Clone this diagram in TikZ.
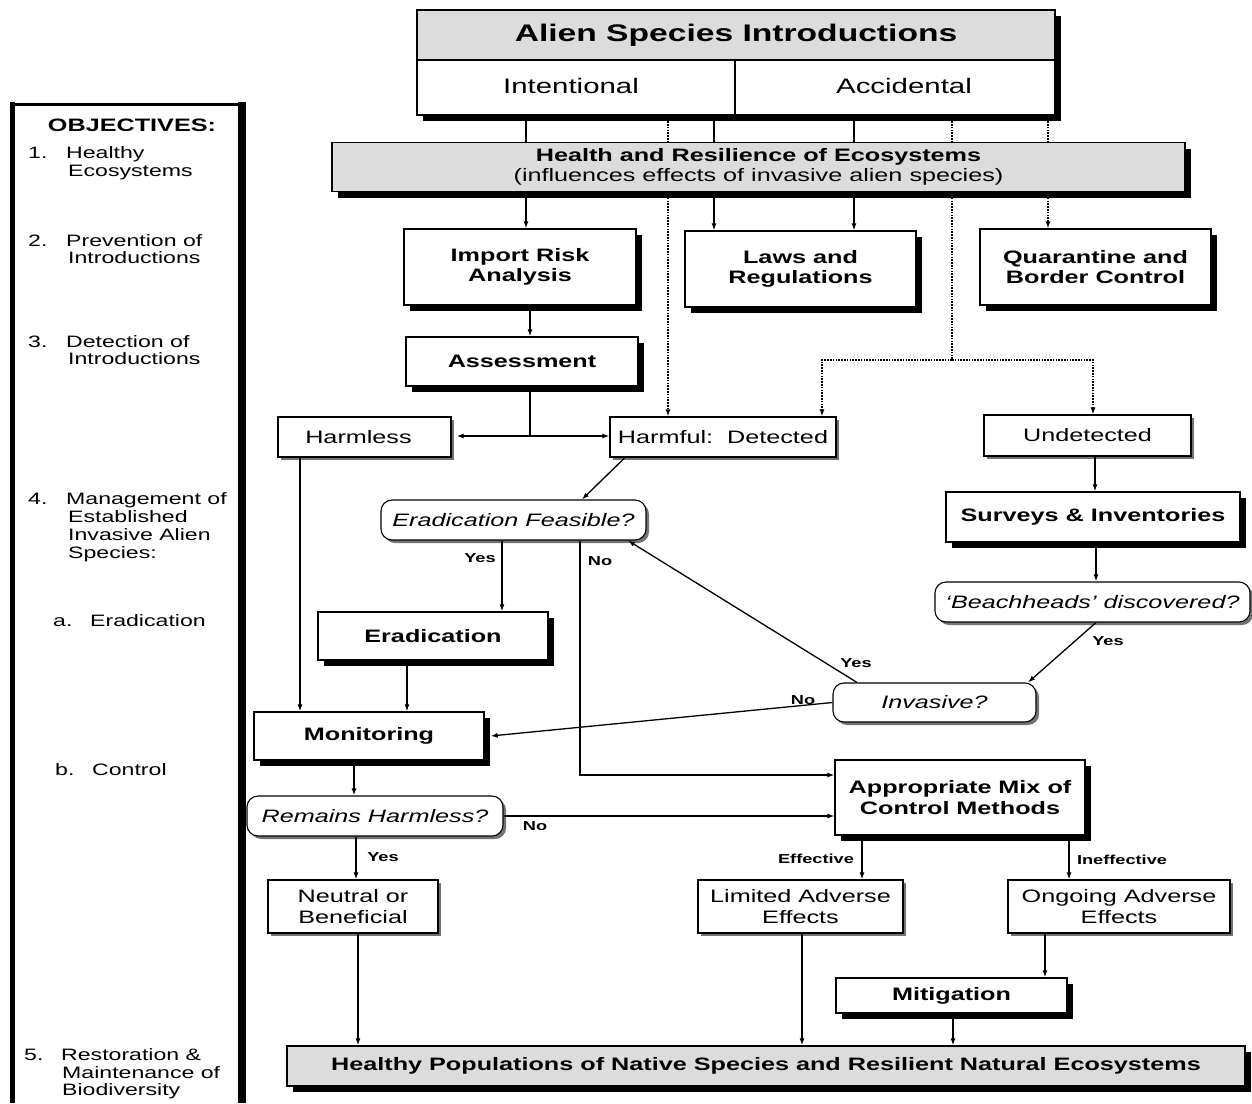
\documentclass[tikz,border=0pt]{standalone}
\usepackage{fontspec}
\setmainfont{Liberation Sans}[FakeStretch=1.4]
\usetikzlibrary{arrows.meta,shadows}
\definecolor{boxgray}{RGB}{220,220,220}
\tikzset{
 heavy/.style={drop shadow={shadow xshift=6pt, shadow yshift=-6pt, fill=black, opacity=1}},
 light/.style={drop shadow={shadow xshift=3pt, shadow yshift=-3pt, fill=black!55, opacity=1}},
 bx/.style={draw, line width=1.3pt, fill=white, inner sep=0pt, align=center, heavy, font=\bfseries\fontsize{18}{20.5}\selectfont},
 plain/.style={draw, line width=1.1pt, fill=white, inner sep=0pt, align=center, light, font=\fontsize{18}{20.5}\selectfont},
 qbox/.style={plain, rounded corners=11pt, font=\itshape\fontsize{18}{20.5}\selectfont},
 arr/.style={-{Latex[length=7pt,width=5pt]}, line width=1.3pt},
 ln/.style={line width=1.3pt},
 dots/.style={dash pattern=on 1.6pt off 1.2pt, line width=1.3pt},
 lbl/.style={font=\bfseries\fontsize{13}{15}\selectfont, inner sep=0pt},
 obj/.style={font=\fontsize{16.5}{18}\selectfont, anchor=base west, inner sep=0pt},
}
\begin{document}
\begin{tikzpicture}[x=1pt,y=-1pt]
\useasboundingbox (0,0) rectangle (1252,1103);
\fill[white] (0,0) rectangle (1252,1103);

% ---------- objectives column ----------
\draw[line width=5pt] (12.5,1103) -- (12.5,102);
\draw[line width=3pt] (10,104.5) -- (243,104.5);
\draw[line width=8pt] (242,102) -- (242,1103);
\node (oh) [anchor=base, inner sep=0pt, font=\bfseries\fontsize{18}{20}\selectfont] at (132,131) {OBJECTIVES:};
\node (o1n) [obj] at (28,158) {1.};
\node (o1a) [obj] at (66,158) {Healthy};
\node (o1b) [obj] at (68,176) {Ecosystems};
\node (o2n) [obj] at (28,246) {2.};
\node (o2a) [obj] at (66,246) {Prevention of};
\node (o2b) [obj] at (68,263) {Introductions};
\node (o3n) [obj] at (28,347) {3.};
\node (o3a) [obj] at (66,347) {Detection of};
\node (o3b) [obj] at (68,364) {Introductions};
\node (o4n) [obj] at (28,504) {4.};
\node (o4a) [obj] at (66,504) {Management of};
\node (o4b) [obj] at (68,522) {Established};
\node (o4c) [obj] at (68,540) {Invasive Alien};
\node (o4d) [obj] at (68,558) {Species:};
\node (oan) [obj] at (53,626) {a.};
\node (oaa) [obj] at (90,626) {Eradication};
\node (obn) [obj] at (55,775) {b.};
\node (oba) [obj] at (92,775) {Control};
\node (o5n) [obj] at (24,1060) {5.};
\node (o5a) [obj] at (61,1060) {Restoration \&};
\node (o5b) [obj] at (62,1078) {Maintenance of};
\node (o5c) [obj] at (62,1095) {Biodiversity};

% ---------- top box ----------
\node (topframe) [draw, line width=1.3pt, fill=white, heavy, minimum width=638pt, minimum height=105pt, inner sep=0pt] at (736,62.5) {};
\node (title) [draw, line width=1.3pt, fill=boxgray, minimum width=638pt, minimum height=50pt, inner sep=0pt, font=\bfseries\fontsize{24}{26}\selectfont] at (736,35) {\raisebox{-2pt}{Alien Species Introductions}};
\node (intent) [draw, line width=1.3pt, minimum width=318pt, minimum height=55pt, inner sep=0pt, font=\fontsize{21}{23}\selectfont] at (576,87.5) {\hspace*{-10pt}\raisebox{4pt}{Intentional}};
\node (accid) [draw, line width=1.3pt, minimum width=320pt, minimum height=55pt, inner sep=0pt, font=\fontsize{21}{23}\selectfont] at (895,87.5) {\hspace*{18pt}\raisebox{4pt}{Accidental}};

% ---------- health band ----------
\node (health) [bx, fill=boxgray, minimum width=853pt, minimum height=49pt, font=\fontsize{18}{19.5}\selectfont] at (758.5,167) {\textbf{Health and Resilience of Ecosystems}\\(influences effects of invasive alien species)};

% ---------- prevention row ----------
\node (ira) [bx, minimum width=232pt, minimum height=76pt] at (520,267) {Import Risk\\Analysis};
\node (laws) [bx, minimum width=231pt, minimum height=76pt] at (800.5,269) {Laws and\\Regulations};
\node (quar) [bx, minimum width=231pt, minimum height=76pt] at (1095.5,267) {Quarantine and\\Border Control};
\node (assess) [bx, minimum width=232pt, minimum height=49pt] at (522,361.5) {Assessment};

% ---------- detection row ----------
\node (harmless) [plain, minimum width=173pt, minimum height=40pt] at (364.5,437) {\hspace*{-12pt}Harmless};
\node (harmful) [plain, minimum width=226pt, minimum height=40pt] at (723,437) {Harmful:\ \ Detected};
\node (undet) [plain, minimum width=207pt, minimum height=41pt] at (1087.5,435.5) {Undetected};

% ---------- management ----------
\node (ef) [qbox, minimum width=265pt, minimum height=40pt] at (513.5,520) {Eradication Feasible?};
\node (surv) [bx, minimum width=294pt, minimum height=50pt] at (1093,517) {Surveys \& Inventories};
\node (beach) [qbox, minimum width=315pt, minimum height=40pt] at (1092.5,602) {`Beachheads' discovered?};
\node (erad) [bx, minimum width=230pt, minimum height=48pt] at (433,636) {Eradication};
\node (inv) [qbox, minimum width=203pt, minimum height=39pt] at (934.5,702.5) {Invasive?};
\node (mon) [bx, minimum width=230pt, minimum height=48pt] at (369,736) {Monitoring};
\node (appr) [bx, minimum width=250pt, minimum height=75pt] at (960,797.5) {Appropriate Mix of\\Control Methods};
\node (rem) [qbox, minimum width=256pt, minimum height=40pt] at (375,816) {Remains Harmless?};
\node (neut) [plain, minimum width=170pt, minimum height=53pt] at (353,906.5) {Neutral or\\Beneficial};
\node (lim) [plain, minimum width=205pt, minimum height=53pt] at (800.5,906.5) {Limited Adverse\\Effects};
\node (ong) [plain, minimum width=222pt, minimum height=53pt] at (1119,906.5) {Ongoing Adverse\\Effects};
\node (mit) [bx, minimum width=231pt, minimum height=35pt] at (951.5,995.5) {Mitigation};
\node (final) [bx, fill=boxgray, minimum width=958pt, minimum height=40pt] at (766,1066) {Healthy Populations of Native Species and Resilient Natural Ecosystems};

% ---------- connectors: top box to health band ----------
\draw[ln] (526,0 |- topframe.south) -- (526,0 |- health.north);
\draw[dots] (668,0 |- topframe.south) -- (668,0 |- health.north);
\draw[ln] (714,0 |- topframe.south) -- (714,0 |- health.north);
\draw[ln] (854,0 |- topframe.south) -- (854,0 |- health.north);
\draw[dots] (952,0 |- topframe.south) -- (952,0 |- health.north);
\draw[dots] (1048,0 |- topframe.south) -- (1048,0 |- health.north);

% ---------- health band to prevention ----------
\draw[arr] (526,0 |- health.south) -- (526,0 |- ira.north);
\draw[arr,dots] (668,0 |- health.south) -- (668,0 |- harmful.north);
\draw[arr] (714,0 |- health.south) -- (714,0 |- laws.north);
\draw[arr] (854,0 |- health.south) -- (854,0 |- laws.north);
\draw[arr,dots] (1048,0 |- health.south) -- (1048,0 |- quar.north);
\draw[dots] (952,0 |- health.south) -- (952,360) coordinate (split);
\draw[arr,dots] (split) -- (822,360) -- (822,0 |- harmful.north);
\draw[arr,dots] (split) -- (1093,360) -- (1093,0 |- undet.north);

% ---------- assessment ----------
\draw[arr] (530,0 |- ira.south) -- (530,0 |- assess.north);
\draw[ln] (530,0 |- assess.south) -- (530,436) coordinate (fork);
\draw[arr] (fork) -- ([xshift=5pt]harmless.east |- fork);
\draw[arr] (fork) -- (harmful.west |- fork);

% ---------- left branch ----------
\draw[arr] (300,0 |- harmless.south) -- (300,0 |- mon.north);
\draw[arr] (625,0 |- harmful.south) -- (582,0 |- ef.north);
\draw[arr] (502,0 |- ef.south) -- (502,0 |- erad.north);
\node (yes1) [lbl] at (480,558) {Yes};
\draw[arr] (580,0 |- ef.south) -- (580,775) coordinate (nobend) -- (appr.west |- nobend);
\node (no1) [lbl] at (600,561) {No};
\draw[arr] (407,0 |- erad.south) -- (407,0 |- mon.north);

% ---------- right branch ----------
\draw[arr] (1095,0 |- undet.south) -- (1095,0 |- surv.north);
\draw[arr] (1096,0 |- surv.south) -- (1096,0 |- beach.north);
\draw[arr] (1096,0 |- beach.south) -- (1028,0 |- inv.north);
\node (yes2) [lbl] at (1108,641) {Yes};
\draw[arr] (857,0 |- inv.north) -- (628,0 |- ef.south);
\node (yes3) [lbl] at (856,663) {Yes};
\draw[arr] (inv.west) -- ([xshift=6pt]mon.east);
\node (no2) [lbl] at (803,700) {No};

% ---------- control ----------
\draw[arr] (354,0 |- mon.south) -- (354,0 |- rem.north);
\draw[arr] (rem.east) -- (appr.west |- rem.east);
\node (no3) [lbl] at (535,826) {No};
\draw[arr] (356,0 |- rem.south) -- (356,0 |- neut.north);
\node (yes4) [lbl] at (383,857) {Yes};
\draw[arr] (862,0 |- appr.south) -- (862,0 |- lim.north);
\node (eff) [lbl] at (816,859) {Effective};
\draw[arr] (1069,0 |- appr.south) -- (1069,0 |- ong.north);
\node (ineff) [lbl] at (1122,860) {Ineffective};

% ---------- to final ----------
\draw[arr] (358,0 |- neut.south) -- (358,0 |- final.north);
\draw[arr] (802,0 |- lim.south) -- (802,0 |- final.north);
\draw[arr] (1045,0 |- ong.south) -- (1045,0 |- mit.north);
\draw[arr] (953,0 |- mit.south) -- (953,0 |- final.north);
\end{tikzpicture}
\end{document}
